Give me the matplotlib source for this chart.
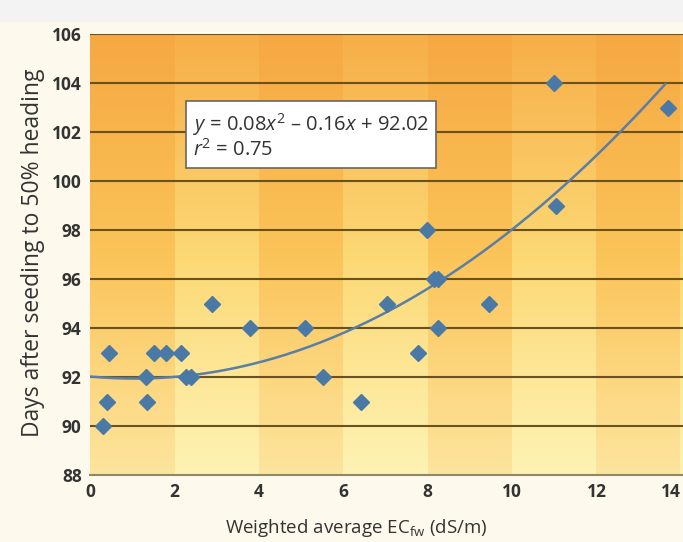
import numpy as np
import matplotlib
matplotlib.use("Agg")
import matplotlib.pyplot as plt
from matplotlib.colors import to_rgb

# Data
ec_fw = [0.31, 0.40, 0.45, 1.33, 1.35, 1.52, 1.80, 2.16, 2.27, 2.39, 2.89, 3.79,
         5.09, 5.52, 6.42, 7.04, 7.77, 7.99, 8.15, 8.25, 8.25, 9.45, 11.0, 11.04, 13.7]
days = [90, 91, 93, 92, 91, 93, 93, 93, 92, 92, 95, 94,
        94, 92, 91, 95, 93, 98, 96, 96, 94, 95, 104, 99, 103]
trend_coef = [0.076, -0.16, 92.02]
trend_xmax = 13.63
x_ticks = [0, 2, 4, 6, 8, 10, 12, 14]
y_ticks = [88, 90, 92, 94, 96, 98, 100, 102, 104, 106]

plt.rcParams['font.family'] = ['Open Sans', 'DejaVu Sans']
plt.rcParams['mathtext.fontset'] = 'custom'
plt.rcParams['mathtext.rm'] = 'Open Sans'
plt.rcParams['mathtext.it'] = 'Open Sans:italic'

W, H = 683, 542
fig = plt.figure(figsize=(W / 100, H / 100), dpi=100)
fig.patch.set_facecolor('#fdf9ec')
fig.patches.append(plt.Rectangle((0, 1 - 22 / H), 1, 22 / H, transform=fig.transFigure,
                                 facecolor='#f3f3f3', edgecolor='none', zorder=0))

ax = fig.add_axes([90 / W, 1 - 475 / H, (683 - 90) / W, (475 - 34) / H])
xmax = 14.05
ax.set_xlim(0, xmax)
ax.set_ylim(88, 106)

# background gradient with alternating vertical bands
nx, ny = 600, 300
xs = np.linspace(0, xmax, nx)
t = np.linspace(0, 1, ny)[:, None, None]  # 0 bottom, 1 top

def grad(stops):
    s0, s1, s2 = [np.array(to_rgb(c))[None, None, :] for c in stops]
    lo = s0 + (s1 - s0) * np.clip(t / 0.5, 0, 1)
    hi = s1 + (s2 - s1) * np.clip((t - 0.5) / 0.5, 0, 1)
    return np.where(t < 0.5, lo, hi)

gd = grad(['#fde59e', '#fbc458', '#f6a843'])
gl = grad(['#fef3b4', '#fcd874', '#f7ae48'])
band = ((xs // 2).astype(int) % 2 == 1)[None, :, None]
img = np.where(band, gl, gd)
ax.imshow(img[::-1], extent=[0, xmax, 88, 106], aspect='auto', zorder=0,
          interpolation='nearest')

for yv in y_ticks[1:]:
    ax.axhline(yv, color='#6a5220', lw=1.5, zorder=1)

xc = np.linspace(0, trend_xmax, 200)
ax.plot(xc, np.polyval(trend_coef, xc), color='#5a7ea6', lw=1.8, zorder=2)

ax.plot(ec_fw, days, linestyle='none', marker='D', ms=8, color='#4a79a6',
        markeredgecolor='#4a79a6', zorder=3, clip_on=False)

for s in ['top', 'right', 'left']:
    ax.spines[s].set_visible(False)
ax.spines['bottom'].set_color('#8a8a6a')
ax.spines['bottom'].set_linewidth(1.5)
ax.set_xticks(x_ticks)
ax.set_yticks(y_ticks)
ax.set_xticklabels([str(v) for v in x_ticks], fontsize=12.5, fontweight='bold', color='#333333')
ax.set_yticklabels([str(v) for v in y_ticks], fontsize=12.5, fontweight='bold', color='#333333')
ax.get_xticklabels()[-1].set_horizontalalignment('right')
ax.tick_params(length=0, pad=6)

ax.text(2.44, 101.84, '$y$ = 0.08$x^2$ – 0.16$x$ + 92.02\n$r^2$ = 0.75',
        fontsize=14.5, color='#333333', va='center', ha='left', linespacing=1.1,
        bbox=dict(boxstyle='square,pad=0.35', facecolor='white', edgecolor='#666666', lw=1.2),
        zorder=4)

fig.text(356 / W, 1 - 528 / H, 'Weighted average EC$_{\\mathregular{fw}}$ (dS/m)',
         fontsize=13.5, color='#333333', ha='center', va='center')
fig.text(33 / W, 1 - 253 / H, 'Days after seeding to 50% heading', fontsize=16.5,
         color='#333333', ha='center', va='center', rotation=90)

fig.savefig('out.png', dpi=100, facecolor=fig.get_facecolor())
